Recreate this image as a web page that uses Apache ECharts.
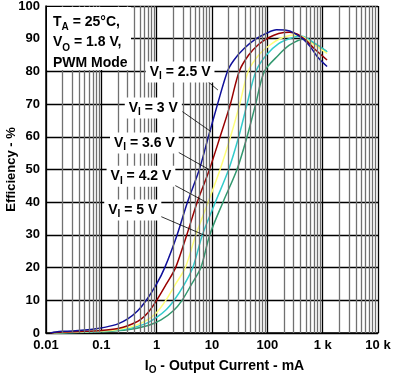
<!DOCTYPE html>
<html><head><meta charset="utf-8">
<script src="https://cdn.jsdelivr.net/npm/echarts@6/dist/echarts.min.js"></script>
<style>html,body{margin:0;padding:0;background:#fff}#c{width:402px;height:378px}</style>
</head><body><div id="c"></div>
<script>
// ---- data (I in mA, efficiency in %) ----
const xTickLabels = ['0.01','0.1','1','10','100','1 k','10 k'];
const seriesLabels = ['2.5 V','3 V','3.6 V','4.2 V','5 V'];
const seriesColors = ['#10109a','#990000','#ffff7a','#33cccc','#339970'];

const eff_VI_2_5 = [[0.012,0],[0.015,0.3],[0.02,0.5],[0.03,0.6],[0.05,0.9],[0.08,1.3],[0.12,1.8],[0.2,2.8],[0.3,4.3],[0.45,6.7],[0.65,10],[1.0,15],[1.4,20],[2.34,30],[3.6,40],[5.9,50],[8.6,60],[12.6,70],[19,80],[25,83.5],[38,87],[63,90],[95,91.6],[146,92.7],[220,92.6],[300,91.8],[450,89.8],[600,87.5],[800,84.5],[1200,81.5]];
const eff_VI_3 = [[0.012,0],[0.02,0.3],[0.05,0.5],[0.1,0.8],[0.2,1.4],[0.3,2.2],[0.5,4],[0.7,6.3],[1.0,10],[1.5,15],[2.2,20],[3.5,30],[5.4,40],[9,50],[14,60],[21.5,70],[31,80],[46,85],[70,88.3],[105,90.3],[160,91.6],[250,92],[350,91.4],[500,89.5],[700,87],[1200,83.5]];
const eff_VI_3_6 = [[0.013,0],[0.03,0.3],[0.1,0.6],[0.2,1.1],[0.4,2.2],[0.7,4.2],[1.0,6.3],[1.46,10],[2.2,15],[3.3,20],[5.1,30],[8.5,40],[14,50],[21.6,60],[31.7,70],[45,80],[70,85],[110,88],[170,90],[300,91.1],[450,90.5],[650,88.5],[900,87],[1200,85.5]];
const eff_VI_4_2 = [[0.014,0],[0.05,0.3],[0.1,0.5],[0.3,1.3],[0.6,2.7],[1.0,4.8],[1.5,7.2],[2.07,10],[3.2,15],[4.5,20],[6.7,30],[11.5,40],[20,50],[30.4,60],[43,70],[62,80],[96,85],[160,88.5],[272,90.2],[410,90.8],[600,89.5],[900,87.5],[1200,86]];
const eff_VI_5 = [[0.015,0],[0.05,0.2],[0.1,0.4],[0.3,1.0],[0.7,2.3],[1.2,4],[2,6.8],[2.88,10],[4.3,15],[6.3,20],[9.1,30],[15.8,40],[28.3,50],[43,60],[61.5,70],[88.5,80],[160,85],[250,88],[450,89.8],[700,88.5],[1000,87],[1200,86]];

// annotation anchor points (data coordinates)
const labelAt   = [[2.65,79.8],[0.87,68.8],[0.60,58.1],[0.52,47.9],[0.37,37.6]];
const arrowFrom = [[7.77,77.4],[2.92,67.7],[2.07,56],[1.81,45.8],[1.025,36.1]];
const arrowTo   = [[12.8,74.3],[9.55,61.6],[9.44,49.7],[8.26,39.8],[7.55,29.8]];

const allCurves = [eff_VI_2_5, eff_VI_3, eff_VI_3_6, eff_VI_4_2, eff_VI_5];

// minor log grid positions (2..9 x decade)
const minorX = [];
for (let k = -2; k <= 3; k++) for (let d = 2; d <= 9; d++) minorX.push(+(d * Math.pow(10, k)).toPrecision(3));

const FONT = 'Liberation Sans, Arial, sans-serif';
const richStyles = {
  a: {fontFamily: FONT, fontSize: 14, fontWeight: 'bold', color: '#000', lineHeight: 19},
  s: {fontFamily: FONT, fontSize: 10, fontWeight: 'bold', color: '#000', lineHeight: 10, verticalAlign: 'bottom'}
};

const series = [{
  type: 'line', data: [], z: 1, silent: true,
  markLine: {
    silent: true, symbol: ['none','none'], animation: false,
    label: {show: false},
    lineStyle: {color: '#707070', width: 1.3, type: 'solid'},
    data: minorX.map(v => ({xAxis: v}))
  }
}];
allCurves.forEach((d, i) => {
  series.push({
    type: 'line', name: seriesLabels[i], data: d, z: 3 + (4 - i) * 0.1,
    showSymbol: false, smooth: 0.3,
    lineStyle: {color: seriesColors[i], width: 1.5},
    markPoint: {
      symbol: 'rect', symbolSize: 0, animation: false, silent: true,
      label: {
        show: true, position: 'inside',
        formatter: '{a|V}{s|I}{a| = ' + seriesLabels[i] + '}',
        backgroundColor: '#fff', padding: [1, 4, 1, 4],
        rich: richStyles
      },
      data: [{coord: labelAt[i]}]
    },
    markLine: {
      silent: true, animation: false, symbol: ['none','triangle'], symbolSize: [0, 11],
      label: {show: false},
      lineStyle: {color: '#000', width: 0.8, type: 'solid'},
      itemStyle: {color: '#000'},
      data: [[{coord: arrowFrom[i]}, {coord: arrowTo[i]}]]
    }
  });
});

const chart = echarts.init(document.getElementById('c'));
chart.setOption({
  animation: false,
  backgroundColor: '#fff',
  graphic: [
    {type: 'rect', left: 47, top: 7, z: 50, shape: {width: 84, height: 63}, style: {fill: '#fff'}},
    {type: 'text', left: 53, top: 15, z: 51, style: {
      text: '{a|T}{s|A}{a| = 25°C,}\n{a|V}{s|O}{a| = 1.8 V,}\n{a|PWM Mode}',
      rich: {
        a: {fontFamily: FONT, fontSize: 14, fontWeight: 'bold', fill: '#000', lineHeight: 20.5},
        s: {fontFamily: FONT, fontSize: 10, fontWeight: 'bold', fill: '#000', lineHeight: 9, verticalAlign: 'bottom'}
      }
    }}
  ],
  grid: {left: 46, right: 24, top: 6, bottom: 45, containLabel: false, outerBoundsMode: 'none'},
  xAxis: {
    type: 'log', logBase: 10, min: 0.01, max: 10000, splitNumber: 6,
    name: '{a|I}{s|O}{a| - Output Current - mA}',
    nameLocation: 'middle', nameGap: 24,
    nameTextStyle: {padding: [0, 0, 0, 25], rich: {
      a: {fontFamily: FONT, fontSize: 14, fontWeight: 'bold', color: '#000', lineHeight: 18},
      s: {fontFamily: FONT, fontSize: 10, fontWeight: 'bold', color: '#000', lineHeight: 10, verticalAlign: 'bottom'}
    }},
    axisLine: {lineStyle: {color: '#000', width: 1.5}},
    axisTick: {show: false},
    axisLabel: {
      fontFamily: FONT, fontSize: 13, fontWeight: 'bold', color: '#000', margin: 6,
      formatter: v => xTickLabels[Math.round(Math.log10(v)) + 2]
    },
    splitLine: {show: true, lineStyle: {color: '#000', width: 1.3}}
  },
  yAxis: {
    type: 'value', min: 0, max: 100, interval: 10,
    name: 'Efficiency - %', nameLocation: 'middle', nameGap: 28, nameRotate: 90,
    nameMoveOverlap: false,
    nameTextStyle: {fontFamily: FONT, fontSize: 13, fontWeight: 'bold', color: '#000'},
    axisLine: {show: true, lineStyle: {color: '#000', width: 1.5}},
    axisTick: {show: false},
    axisLabel: {fontFamily: FONT, fontSize: 13, fontWeight: 'bold', color: '#000', margin: 6},
    splitLine: {show: true, lineStyle: {color: '#000', width: 1.3}}
  },
  series: series
});
</script>
</body></html>
